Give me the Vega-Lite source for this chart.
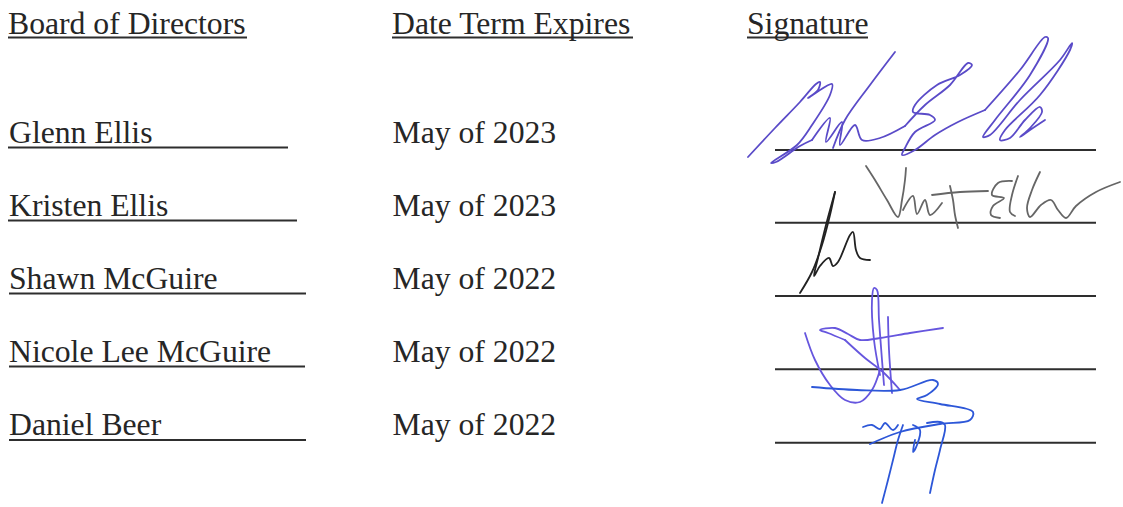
{
  "$schema": "https://vega.github.io/schema/vega-lite/v6.json",
  "width": 1123,
  "height": 507,
  "autosize": {"type": "fit", "contains": "padding"},
  "padding": 0,
  "background": "white",
  "config": {"view": {"stroke": null}},
  "datasets": {
    "texts": [
      {"label": "Board of Directors", "x": 8, "y": 33.5},
      {"label": "Date Term Expires", "x": 392, "y": 33.5},
      {"label": "Signature", "x": 747, "y": 33.5},
      {"label": "Glenn Ellis", "x": 9, "y": 143},
      {"label": "Kristen Ellis", "x": 9, "y": 216},
      {"label": "Shawn McGuire", "x": 9, "y": 289},
      {"label": "Nicole Lee McGuire", "x": 9, "y": 362},
      {"label": "Daniel Beer", "x": 9, "y": 435},
      {"label": "May of 2023", "x": 392.5, "y": 142.5},
      {"label": "May of 2023", "x": 392.5, "y": 216},
      {"label": "May of 2022", "x": 392.5, "y": 289},
      {"label": "May of 2022", "x": 392.5, "y": 362},
      {"label": "May of 2022", "x": 392.5, "y": 435}
    ],
    "rules": [
      {"x": 8, "x2": 247, "y": 37.5},
      {"x": 392, "x2": 633, "y": 37.5},
      {"x": 747, "x2": 868, "y": 37.5},
      {"x": 8, "x2": 288, "y": 147.5},
      {"x": 8, "x2": 297, "y": 220.5},
      {"x": 9, "x2": 306, "y": 293.5},
      {"x": 9, "x2": 305, "y": 366.5},
      {"x": 9, "x2": 306, "y": 440},
      {"x": 775, "x2": 1096, "y": 150},
      {"x": 775, "x2": 1096, "y": 222.7},
      {"x": 775, "x2": 1096, "y": 296},
      {"x": 775, "x2": 1096, "y": 369.3},
      {"x": 775, "x2": 1096, "y": 442.7}
    ],
    "ink": [
      {"pen": "glenn", "s": "g1", "o": 1, "x": 748, "y": 157},
      {"pen": "glenn", "s": "g1", "o": 2, "x": 775, "y": 128},
      {"pen": "glenn", "s": "g1", "o": 3, "x": 800, "y": 102},
      {"pen": "glenn", "s": "g1", "o": 4, "x": 816, "y": 84},
      {"pen": "glenn", "s": "g1", "o": 5, "x": 820, "y": 82},
      {"pen": "glenn", "s": "g1", "o": 6, "x": 818, "y": 90},
      {"pen": "glenn", "s": "g1", "o": 7, "x": 808, "y": 98},
      {"pen": "glenn", "s": "g1", "o": 8, "x": 832, "y": 84},
      {"pen": "glenn", "s": "g1", "o": 9, "x": 830, "y": 95},
      {"pen": "glenn", "s": "g1", "o": 10, "x": 812, "y": 125},
      {"pen": "glenn", "s": "g1", "o": 11, "x": 797, "y": 145},
      {"pen": "glenn", "s": "g1", "o": 12, "x": 771, "y": 163},
      {"pen": "glenn", "s": "g1", "o": 13, "x": 776, "y": 162},
      {"pen": "glenn", "s": "g1", "o": 14, "x": 800, "y": 146},
      {"pen": "glenn", "s": "g1", "o": 15, "x": 812, "y": 140},
      {"pen": "glenn", "s": "g2", "o": 1, "x": 895, "y": 52},
      {"pen": "glenn", "s": "g2", "o": 2, "x": 870, "y": 85},
      {"pen": "glenn", "s": "g2", "o": 3, "x": 845, "y": 120},
      {"pen": "glenn", "s": "g2", "o": 4, "x": 833, "y": 148},
      {"pen": "glenn", "s": "g3", "o": 1, "x": 812, "y": 140},
      {"pen": "glenn", "s": "g3", "o": 2, "x": 830, "y": 118},
      {"pen": "glenn", "s": "g3", "o": 3, "x": 826, "y": 142},
      {"pen": "glenn", "s": "g3", "o": 4, "x": 842, "y": 122},
      {"pen": "glenn", "s": "g3", "o": 5, "x": 840, "y": 145},
      {"pen": "glenn", "s": "g3", "o": 6, "x": 855, "y": 125},
      {"pen": "glenn", "s": "g3", "o": 7, "x": 862, "y": 140},
      {"pen": "glenn", "s": "g3", "o": 8, "x": 880, "y": 138},
      {"pen": "glenn", "s": "g3", "o": 9, "x": 905, "y": 126},
      {"pen": "glenn", "s": "g4", "o": 1, "x": 905, "y": 126},
      {"pen": "glenn", "s": "g4", "o": 2, "x": 925, "y": 105},
      {"pen": "glenn", "s": "g4", "o": 3, "x": 950, "y": 85},
      {"pen": "glenn", "s": "g4", "o": 4, "x": 968, "y": 63},
      {"pen": "glenn", "s": "g4", "o": 5, "x": 972, "y": 65},
      {"pen": "glenn", "s": "g4", "o": 6, "x": 960, "y": 75},
      {"pen": "glenn", "s": "g4", "o": 7, "x": 937, "y": 85},
      {"pen": "glenn", "s": "g4", "o": 8, "x": 915, "y": 105},
      {"pen": "glenn", "s": "g4", "o": 9, "x": 913, "y": 112},
      {"pen": "glenn", "s": "g4", "o": 10, "x": 930, "y": 115},
      {"pen": "glenn", "s": "g4", "o": 11, "x": 935, "y": 120},
      {"pen": "glenn", "s": "g4", "o": 12, "x": 915, "y": 132},
      {"pen": "glenn", "s": "g4", "o": 13, "x": 905, "y": 148},
      {"pen": "glenn", "s": "g4", "o": 14, "x": 902, "y": 155},
      {"pen": "glenn", "s": "g4", "o": 15, "x": 915, "y": 150},
      {"pen": "glenn", "s": "g4", "o": 16, "x": 935, "y": 135},
      {"pen": "glenn", "s": "g4", "o": 17, "x": 958, "y": 122},
      {"pen": "glenn", "s": "g4", "o": 18, "x": 985, "y": 110},
      {"pen": "glenn", "s": "g5", "o": 1, "x": 985, "y": 110},
      {"pen": "glenn", "s": "g5", "o": 2, "x": 1020, "y": 70},
      {"pen": "glenn", "s": "g5", "o": 3, "x": 1045, "y": 37},
      {"pen": "glenn", "s": "g5", "o": 4, "x": 1048, "y": 38},
      {"pen": "glenn", "s": "g5", "o": 5, "x": 1030, "y": 75},
      {"pen": "glenn", "s": "g5", "o": 6, "x": 995, "y": 120},
      {"pen": "glenn", "s": "g5", "o": 7, "x": 983, "y": 137},
      {"pen": "glenn", "s": "g5", "o": 8, "x": 990, "y": 135},
      {"pen": "glenn", "s": "g5", "o": 9, "x": 1020, "y": 100},
      {"pen": "glenn", "s": "g5", "o": 10, "x": 1060, "y": 60},
      {"pen": "glenn", "s": "g5", "o": 11, "x": 1072, "y": 43},
      {"pen": "glenn", "s": "g5", "o": 12, "x": 1070, "y": 50},
      {"pen": "glenn", "s": "g5", "o": 13, "x": 1040, "y": 95},
      {"pen": "glenn", "s": "g5", "o": 14, "x": 1005, "y": 130},
      {"pen": "glenn", "s": "g5", "o": 15, "x": 1000, "y": 140},
      {"pen": "glenn", "s": "g5", "o": 16, "x": 1010, "y": 138},
      {"pen": "glenn", "s": "g5", "o": 17, "x": 1025, "y": 120},
      {"pen": "glenn", "s": "g5", "o": 18, "x": 1040, "y": 107},
      {"pen": "glenn", "s": "g5", "o": 19, "x": 1042, "y": 112},
      {"pen": "glenn", "s": "g5", "o": 20, "x": 1030, "y": 128},
      {"pen": "glenn", "s": "g5", "o": 21, "x": 1020, "y": 137},
      {"pen": "glenn", "s": "g5", "o": 22, "x": 1030, "y": 130},
      {"pen": "glenn", "s": "g5", "o": 23, "x": 1045, "y": 120},

      {"pen": "kristen", "s": "k1", "o": 1, "x": 866, "y": 166},
      {"pen": "kristen", "s": "k1", "o": 2, "x": 875, "y": 180},
      {"pen": "kristen", "s": "k1", "o": 3, "x": 887, "y": 200},
      {"pen": "kristen", "s": "k1", "o": 4, "x": 898, "y": 217},
      {"pen": "kristen", "s": "k1", "o": 5, "x": 902, "y": 200},
      {"pen": "kristen", "s": "k1", "o": 6, "x": 905, "y": 180},
      {"pen": "kristen", "s": "k1", "o": 7, "x": 906, "y": 168},
      {"pen": "kristen", "s": "k2", "o": 1, "x": 903, "y": 210},
      {"pen": "kristen", "s": "k2", "o": 2, "x": 913, "y": 196},
      {"pen": "kristen", "s": "k2", "o": 3, "x": 917, "y": 214},
      {"pen": "kristen", "s": "k2", "o": 4, "x": 925, "y": 200},
      {"pen": "kristen", "s": "k2", "o": 5, "x": 930, "y": 215},
      {"pen": "kristen", "s": "k2", "o": 6, "x": 942, "y": 203},
      {"pen": "kristen", "s": "k3", "o": 1, "x": 950, "y": 186},
      {"pen": "kristen", "s": "k3", "o": 2, "x": 953, "y": 200},
      {"pen": "kristen", "s": "k3", "o": 3, "x": 955, "y": 215},
      {"pen": "kristen", "s": "k3", "o": 4, "x": 958, "y": 228},
      {"pen": "kristen", "s": "k4", "o": 1, "x": 932, "y": 195},
      {"pen": "kristen", "s": "k4", "o": 2, "x": 960, "y": 192},
      {"pen": "kristen", "s": "k4", "o": 3, "x": 988, "y": 191},
      {"pen": "kristen", "s": "k5", "o": 1, "x": 1012, "y": 181},
      {"pen": "kristen", "s": "k5", "o": 2, "x": 998, "y": 183},
      {"pen": "kristen", "s": "k5", "o": 3, "x": 992, "y": 195},
      {"pen": "kristen", "s": "k5", "o": 4, "x": 1004, "y": 198},
      {"pen": "kristen", "s": "k5", "o": 5, "x": 993, "y": 206},
      {"pen": "kristen", "s": "k5", "o": 6, "x": 991, "y": 215},
      {"pen": "kristen", "s": "k5", "o": 7, "x": 1000, "y": 218},
      {"pen": "kristen", "s": "k6", "o": 1, "x": 1040, "y": 172},
      {"pen": "kristen", "s": "k6", "o": 2, "x": 1032, "y": 190},
      {"pen": "kristen", "s": "k6", "o": 3, "x": 1027, "y": 208},
      {"pen": "kristen", "s": "k6", "o": 4, "x": 1030, "y": 217},
      {"pen": "kristen", "s": "k6", "o": 5, "x": 1041, "y": 205},
      {"pen": "kristen", "s": "k6", "o": 6, "x": 1051, "y": 200},
      {"pen": "kristen", "s": "k6", "o": 7, "x": 1058, "y": 210},
      {"pen": "kristen", "s": "k6", "o": 8, "x": 1066, "y": 218},
      {"pen": "kristen", "s": "k6", "o": 9, "x": 1076, "y": 206},
      {"pen": "kristen", "s": "k6", "o": 10, "x": 1096, "y": 192},
      {"pen": "kristen", "s": "k6", "o": 11, "x": 1120, "y": 182},
      {"pen": "kristen", "s": "k7", "o": 1, "x": 1018, "y": 176},
      {"pen": "kristen", "s": "k7", "o": 2, "x": 1012, "y": 195},
      {"pen": "kristen", "s": "k7", "o": 3, "x": 1010, "y": 212},
      {"pen": "kristen", "s": "k7", "o": 4, "x": 1015, "y": 216},

      {"pen": "shawn", "s": "h1", "o": 1, "x": 835, "y": 192},
      {"pen": "shawn", "s": "h1", "o": 2, "x": 830, "y": 215},
      {"pen": "shawn", "s": "h1", "o": 3, "x": 822, "y": 245},
      {"pen": "shawn", "s": "h1", "o": 4, "x": 812, "y": 272},
      {"pen": "shawn", "s": "h1", "o": 5, "x": 800, "y": 293},
      {"pen": "shawn", "s": "h2", "o": 1, "x": 835, "y": 192},
      {"pen": "shawn", "s": "h2", "o": 2, "x": 826, "y": 225},
      {"pen": "shawn", "s": "h2", "o": 3, "x": 818, "y": 258},
      {"pen": "shawn", "s": "h2", "o": 4, "x": 814, "y": 276},
      {"pen": "shawn", "s": "h2", "o": 5, "x": 820, "y": 266},
      {"pen": "shawn", "s": "h2", "o": 6, "x": 829, "y": 258},
      {"pen": "shawn", "s": "h2", "o": 7, "x": 833, "y": 266},
      {"pen": "shawn", "s": "h2", "o": 8, "x": 838, "y": 262},
      {"pen": "shawn", "s": "h2", "o": 9, "x": 850, "y": 235},
      {"pen": "shawn", "s": "h2", "o": 10, "x": 853, "y": 232},
      {"pen": "shawn", "s": "h2", "o": 11, "x": 856, "y": 250},
      {"pen": "shawn", "s": "h2", "o": 12, "x": 860, "y": 258},
      {"pen": "shawn", "s": "h2", "o": 13, "x": 870, "y": 260},

      {"pen": "nicole", "s": "n1", "o": 1, "x": 880, "y": 375},
      {"pen": "nicole", "s": "n1", "o": 2, "x": 874, "y": 340},
      {"pen": "nicole", "s": "n1", "o": 3, "x": 872, "y": 300},
      {"pen": "nicole", "s": "n1", "o": 4, "x": 874, "y": 288},
      {"pen": "nicole", "s": "n1", "o": 5, "x": 877, "y": 290},
      {"pen": "nicole", "s": "n1", "o": 6, "x": 879, "y": 320},
      {"pen": "nicole", "s": "n1", "o": 7, "x": 882, "y": 360},
      {"pen": "nicole", "s": "n1", "o": 8, "x": 884, "y": 385},
      {"pen": "nicole", "s": "n2", "o": 1, "x": 888, "y": 317},
      {"pen": "nicole", "s": "n2", "o": 2, "x": 889, "y": 350},
      {"pen": "nicole", "s": "n2", "o": 3, "x": 892, "y": 393},
      {"pen": "nicole", "s": "n3", "o": 1, "x": 845, "y": 340},
      {"pen": "nicole", "s": "n3", "o": 2, "x": 828, "y": 333},
      {"pen": "nicole", "s": "n3", "o": 3, "x": 820, "y": 330},
      {"pen": "nicole", "s": "n3", "o": 4, "x": 835, "y": 328},
      {"pen": "nicole", "s": "n3", "o": 5, "x": 848, "y": 334},
      {"pen": "nicole", "s": "n3", "o": 6, "x": 860, "y": 340},
      {"pen": "nicole", "s": "n3", "o": 7, "x": 880, "y": 338},
      {"pen": "nicole", "s": "n3", "o": 8, "x": 910, "y": 333},
      {"pen": "nicole", "s": "n3", "o": 9, "x": 943, "y": 328},
      {"pen": "nicole", "s": "n4", "o": 1, "x": 805, "y": 333},
      {"pen": "nicole", "s": "n4", "o": 2, "x": 815, "y": 360},
      {"pen": "nicole", "s": "n4", "o": 3, "x": 830, "y": 385},
      {"pen": "nicole", "s": "n4", "o": 4, "x": 845, "y": 400},
      {"pen": "nicole", "s": "n4", "o": 5, "x": 860, "y": 402},
      {"pen": "nicole", "s": "n4", "o": 6, "x": 872, "y": 390},
      {"pen": "nicole", "s": "n4", "o": 7, "x": 880, "y": 370},
      {"pen": "nicole", "s": "n5", "o": 1, "x": 845, "y": 340},
      {"pen": "nicole", "s": "n5", "o": 2, "x": 865, "y": 358},
      {"pen": "nicole", "s": "n5", "o": 3, "x": 883, "y": 372},
      {"pen": "nicole", "s": "n5", "o": 4, "x": 900, "y": 390},

      {"pen": "daniel", "s": "d1", "o": 1, "x": 812, "y": 387},
      {"pen": "daniel", "s": "d1", "o": 2, "x": 857, "y": 390},
      {"pen": "daniel", "s": "d1", "o": 3, "x": 900, "y": 390},
      {"pen": "daniel", "s": "d1", "o": 4, "x": 933, "y": 380},
      {"pen": "daniel", "s": "d1", "o": 5, "x": 938, "y": 384},
      {"pen": "daniel", "s": "d1", "o": 6, "x": 927, "y": 395},
      {"pen": "daniel", "s": "d1", "o": 7, "x": 917, "y": 399},
      {"pen": "daniel", "s": "d1", "o": 8, "x": 940, "y": 404},
      {"pen": "daniel", "s": "d1", "o": 9, "x": 973, "y": 412},
      {"pen": "daniel", "s": "d1", "o": 10, "x": 970, "y": 420},
      {"pen": "daniel", "s": "d1", "o": 11, "x": 940, "y": 424},
      {"pen": "daniel", "s": "d1", "o": 12, "x": 900, "y": 432},
      {"pen": "daniel", "s": "d1", "o": 13, "x": 870, "y": 444},
      {"pen": "daniel", "s": "d2", "o": 1, "x": 863, "y": 427},
      {"pen": "daniel", "s": "d2", "o": 2, "x": 872, "y": 425},
      {"pen": "daniel", "s": "d2", "o": 3, "x": 880, "y": 429},
      {"pen": "daniel", "s": "d2", "o": 4, "x": 885, "y": 423},
      {"pen": "daniel", "s": "d2", "o": 5, "x": 893, "y": 430},
      {"pen": "daniel", "s": "d2", "o": 6, "x": 898, "y": 425},
      {"pen": "daniel", "s": "d3", "o": 1, "x": 903, "y": 425},
      {"pen": "daniel", "s": "d3", "o": 2, "x": 898, "y": 440},
      {"pen": "daniel", "s": "d3", "o": 3, "x": 893, "y": 460},
      {"pen": "daniel", "s": "d3", "o": 4, "x": 888, "y": 480},
      {"pen": "daniel", "s": "d3", "o": 5, "x": 882, "y": 503},
      {"pen": "daniel", "s": "d4", "o": 1, "x": 913, "y": 425},
      {"pen": "daniel", "s": "d4", "o": 2, "x": 920, "y": 430},
      {"pen": "daniel", "s": "d4", "o": 3, "x": 917, "y": 445},
      {"pen": "daniel", "s": "d4", "o": 4, "x": 913, "y": 452},
      {"pen": "daniel", "s": "d4", "o": 5, "x": 915, "y": 440},
      {"pen": "daniel", "s": "d5", "o": 1, "x": 927, "y": 423},
      {"pen": "daniel", "s": "d5", "o": 2, "x": 940, "y": 422},
      {"pen": "daniel", "s": "d5", "o": 3, "x": 945, "y": 425},
      {"pen": "daniel", "s": "d5", "o": 4, "x": 940, "y": 450},
      {"pen": "daniel", "s": "d5", "o": 5, "x": 935, "y": 470},
      {"pen": "daniel", "s": "d5", "o": 6, "x": 930, "y": 493}
    ]
  },
  "layer": [
    {
      "data": {"name": "rules"},
      "mark": {"type": "rule", "color": "#2e2e2e", "strokeWidth": 2},
      "encoding": {
        "x": {"field": "x", "type": "quantitative", "scale": {"domain": [0, 1123], "nice": false, "zero": false}, "axis": null},
        "x2": {"field": "x2"},
        "y": {"field": "y", "type": "quantitative", "scale": {"domain": [0, 507], "nice": false, "zero": false, "reverse": true}, "axis": null}
      }
    },
    {
      "data": {"name": "texts"},
      "mark": {"type": "text", "align": "left", "baseline": "alphabetic", "font": "Liberation Serif", "fontSize": 31.7, "color": "#262626"},
      "encoding": {
        "x": {"field": "x", "type": "quantitative", "scale": {"domain": [0, 1123], "nice": false, "zero": false}, "axis": null},
        "y": {"field": "y", "type": "quantitative", "scale": {"domain": [0, 507], "nice": false, "zero": false, "reverse": true}, "axis": null},
        "text": {"field": "label", "type": "nominal"}
      }
    },
    {
      "data": {"name": "ink"},
      "mark": {"type": "line", "strokeWidth": 1.8, "interpolate": "catmull-rom", "strokeCap": "round", "strokeJoin": "round"},
      "encoding": {
        "x": {"field": "x", "type": "quantitative", "scale": {"domain": [0, 1123], "nice": false, "zero": false}, "axis": null},
        "y": {"field": "y", "type": "quantitative", "scale": {"domain": [0, 507], "nice": false, "zero": false, "reverse": true}, "axis": null},
        "detail": {"field": "s", "type": "nominal"},
        "order": {"field": "o", "type": "quantitative"},
        "color": {"field": "pen", "type": "nominal", "legend": null, "scale": {"domain": ["glenn", "kristen", "shawn", "nicole", "daniel"], "range": ["#5a4bc8", "#666666", "#222222", "#6656de", "#2d57d8"]}}
      }
    }
  ]
}
